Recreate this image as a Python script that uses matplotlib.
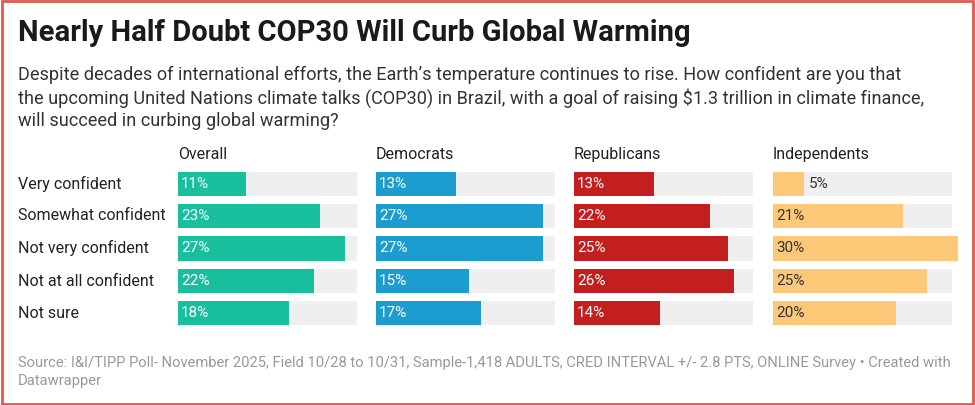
import matplotlib.pyplot as plt
from matplotlib.patches import Rectangle

plt.rcParams['font.family'] = ['Roboto', 'DejaVu Sans']

categories = ["Very confident", "Somewhat confident", "Not very confident",
              "Not at all confident", "Not sure"]
groups = ["Overall", "Democrats", "Republicans", "Independents"]
overall = [11, 23, 27, 22, 18]
democrats = [13, 27, 27, 15, 17]
republicans = [13, 22, 25, 26, 14]
independents = [5, 21, 30, 25, 20]
series = [overall, democrats, republicans, independents]
colors = ["#17bf9d", "#1b9dd0", "#c41f1f", "#fdc877"]
text_colors = ["white", "white", "white", "#333333"]

W, H = 975, 405
fig = plt.figure(figsize=(W / 100, H / 100), dpi=100)
fig.patches.append(Rectangle((0.002, 0.003), 0.996, 0.994, transform=fig.transFigure,
                             fill=False, edgecolor="#e0584e", linewidth=2))

fig.text(18 / W, 1 - 33 / H, "Nearly Half Doubt COP30 Will Curb Global Warming",
         fontsize=21, fontweight="bold", color="#1a1a1a", va="center")
fig.text(18 / W, 1 - 98 / H,
         "Despite decades of international efforts, the Earth\u2019s temperature continues to rise. How confident are you that\n"
         "the upcoming United Nations climate talks (COP30) in Brazil, with a goal of raising $1.3 trillion in climate finance,\n"
         "will succeed in curbing global warming?",
         fontsize=13.1, color="#333333", va="center", linespacing=1.3)
fig.text(18 / W, 1 - 372 / H,
         "Source: I&I/TIPP Poll- November 2025, Field 10/28 to 10/31, Sample-1,418 ADULTS, CRED INTERVAL +/- 2.8 PTS, ONLINE Survey \u2022 Created with\n"
         "Datawrapper",
         fontsize=10.6, color="#999999", va="center", linespacing=1.35)

row_y = [184, 216, 248, 281, 313]
for cat, y in zip(categories, row_y):
    fig.text(18 / W, 1 - y / H, cat, fontsize=11.5, color="#222222", va="center")

starts = [178, 376, 574, 773]
width = 185
top, bottom = 168, 329
for g, vals, c, tc, x0 in zip(groups, series, colors, text_colors, starts):
    fig.text(x0 / W, 1 - 155 / H, g, fontsize=11.5, color="#222222", va="center")
    ax = fig.add_axes([x0 / W, 1 - bottom / H, width / W, (bottom - top) / H])
    ys = range(len(categories))
    ax.barh(ys, [29] * len(vals), height=0.75, color="#efefef")
    ax.barh(ys, vals, height=0.75, color=c)
    for i, v in enumerate(vals):
        if v < 8:
            ax.text(v + 0.8, i, f"{v}%", va="center", fontsize=11, color="#333333")
        else:
            ax.text(0.5, i, f"{v}%", va="center", fontsize=11, color=tc)
    ax.set_xlim(0, 30)
    ax.set_ylim(len(categories) - 0.5, -0.5)
    ax.axis("off")

fig.savefig("out.png", dpi=100)
